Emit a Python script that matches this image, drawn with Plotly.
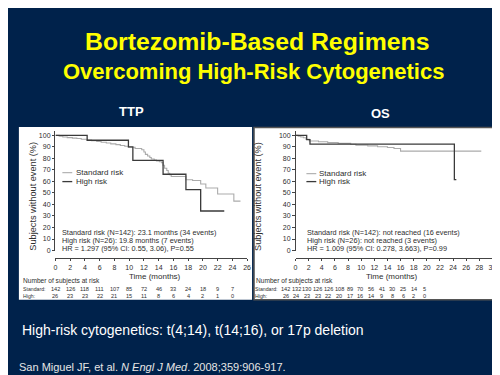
import plotly.graph_objects as go

W, H = 500, 375
def px(x): return x / W
def py(y): return 1 - y / H

# ---------------- data ----------------
ttp_std_t = [0, 0.5, 1.0, 1.6, 2.3, 2.9, 3.5, 4.3, 4.9, 5.6, 6.2, 6.9, 7.5, 8.2, 8.8, 9.4, 9.9,
             10.8, 11.7, 12.0, 12.2, 12.5, 12.8, 13.0, 13.4, 13.7, 14.1, 14.4, 14.6, 14.8, 15.1,
             15.3, 15.5, 15.7, 17.7, 18.6, 19.7, 20.4, 22.0, 24.2, 25.1]
ttp_std_v = [100, 99.3, 98.6, 98.0, 97.6, 97.2, 96.6, 96.0, 95.4, 94.7, 94.0, 93.3, 92.6, 91.9, 91.2,
             90.5, 89.6, 88.6, 87.5, 85.5, 83.5, 82.0, 80.8, 79.5, 78.6, 77.7, 77.0, 76.3, 74.0,
             71.4, 69.5, 67.1, 65.8, 64.3, 61.4, 60.8, 57.7, 54.3, 49.1, 42.9, 42.9]
ttp_high_t = [0, 4.3, 9.9, 10.5, 14.6, 17.7, 19.7, 22.9]
ttp_high_v = [100, 95.7, 90.0, 78.3, 66.2, 52.9, 34.3, 34.3]

os_std_t = [0, 0.4, 0.8, 1.2, 1.6, 2.1, 3.5, 4.9, 6.5, 8.4, 9.2, 11.0, 12.5, 14.0, 15.0, 16.0, 28.3]
os_std_v = [100, 99.3, 98.6, 97.9, 96.5, 95.1, 94.4, 93.7, 93.0, 92.3, 91.5, 90.8, 90.1, 89.4, 88.6, 86.3, 86.3]
os_high_t = [0, 1.7, 2.2, 24.2, 24.5]
os_high_v = [100, 96.2, 92.3, 61.5, 61.5]

ttp_risk_times = [0, 2, 4, 6, 8, 10, 12, 14, 16, 18, 20, 22, 24]
ttp_risk_std = [142, 126, 118, 111, 107, 85, 72, 46, 33, 24, 18, 9, 7]
ttp_risk_high = [26, 23, 23, 22, 21, 15, 11, 8, 6, 4, 2, 1, 0]
os_risk_std = [142, 132, 130, 126, 126, 108, 89, 70, 56, 41, 30, 25, 14, 5]
os_risk_high = [26, 24, 23, 23, 22, 20, 17, 16, 14, 9, 8, 6, 2, 0]

ttp_xticks = list(range(0, 27, 2))
os_xticks = list(range(0, 31, 2))
yticks = list(range(0, 101, 10))

ttp_notes = ["Standard risk (N=142): 23.1 months (34 events)",
             "High risk (N=26): 19.8 months (7 events)",
             "HR = 1.297 (95% CI: 0.55, 3.06), P=0.55"]
os_notes = ["Standard risk (N=142): not reached (16 events)",
            "High risk (N=26): not reached (3 events)",
            "HR = 1.009 (95% CI: 0.278, 3.663), P=0.99"]

# ---------------- style ----------------
NAVY = "#00224B"
STD_C = "#ababab"
HIGH_C = "#3a3a3a"
TXT = "#2e2e2e"
FONT = "Arial, Liberation Sans, sans-serif"
FS_TICK = 7.0
FS_NOTE = 7.3
FS_TAB = 5.6
FS_TABLBL = 5.2
FS_LEG = 8.0

fig = go.Figure()
fig.add_trace(go.Scatter(x=ttp_std_t, y=ttp_std_v, mode="lines", line=dict(shape="hv", color=STD_C, width=1.1),
                         xaxis="x", yaxis="y", showlegend=False, hoverinfo="skip"))
fig.add_trace(go.Scatter(x=ttp_high_t, y=ttp_high_v, mode="lines", line=dict(shape="hv", color=HIGH_C, width=1.3),
                         xaxis="x", yaxis="y", showlegend=False, hoverinfo="skip"))
fig.add_trace(go.Scatter(x=os_std_t, y=os_std_v, mode="lines", line=dict(shape="hv", color=STD_C, width=1.1),
                         xaxis="x2", yaxis="y2", showlegend=False, hoverinfo="skip"))
fig.add_trace(go.Scatter(x=os_high_t, y=os_high_v, mode="lines", line=dict(shape="hv", color=HIGH_C, width=1.3),
                         xaxis="x2", yaxis="y2", showlegend=False, hoverinfo="skip"))

axcommon = dict(showgrid=False, zeroline=False, showline=True, linecolor="#444", linewidth=1,
                ticks="outside", ticklen=2.5, tickcolor="#444", tickwidth=1,
                tickfont=dict(size=FS_TICK, color=TXT, family=FONT))

Y_TOP, Y_ZERO, X_AXIS_Y = 123.7, 244.5, 252

fig.update_layout(
    width=W, height=H, margin=dict(l=0, r=0, t=0, b=0),
    paper_bgcolor=NAVY, plot_bgcolor="rgba(0,0,0,0)",
    font=dict(family=FONT),
    xaxis=dict(domain=[px(46), px(240)], range=[0, 26], anchor="free", position=py(X_AXIS_Y),
               tickvals=ttp_xticks, **axcommon),
    yaxis=dict(domain=[py(Y_ZERO), py(Y_TOP)], range=[0, 104], anchor="x", tickvals=yticks, **axcommon),
    xaxis2=dict(domain=[px(289), px(488.3)], range=[0, 30], anchor="free", position=py(X_AXIS_Y),
                tickvals=os_xticks, **axcommon),
    yaxis2=dict(domain=[py(Y_ZERO), py(Y_TOP)], range=[0, 104], anchor="x2", tickvals=yticks, **axcommon),
)

shapes = [
    dict(type="rect", xref="paper", yref="paper", x0=px(9), x1=px(245), y0=py(294), y1=py(120),
         fillcolor="white", line=dict(width=0), layer="below"),
    dict(type="rect", xref="paper", yref="paper", x0=px(247), x1=px(496.5), y0=py(294), y1=py(120.5),
         fillcolor="white", line=dict(width=1.5, color="#555"), layer="below"),
    dict(type="line", xref="paper", yref="paper", x0=px(53), x1=px(63), y0=py(166), y1=py(166),
         line=dict(color=STD_C, width=1.1)),
    dict(type="line", xref="paper", yref="paper", x0=px(53), x1=px(63), y0=py(175), y1=py(175),
         line=dict(color=HIGH_C, width=1.3)),
    dict(type="line", xref="paper", yref="paper", x0=px(300), x1=px(310), y0=py(167), y1=py(167),
         line=dict(color=STD_C, width=1.1)),
    dict(type="line", xref="paper", yref="paper", x0=px(300), x1=px(310), y0=py(175), y1=py(175),
         line=dict(color=HIGH_C, width=1.3)),
]

ann = []
def t(text, x, y, size=FS_NOTE, color=TXT, xanchor="left", bold=False, **kw):
    if bold:
        text = "<b>" + text + "</b>"
    ann.append(dict(text=text, x=px(x), y=py(y), xref="paper", yref="paper", xanchor=xanchor,
                    yanchor="middle", showarrow=False, font=dict(size=size, color=color, family=FONT), **kw))

t("Bortezomib-Based Regimens", 249.5, 34, size=24.8, color="#FFFF00", xanchor="center", bold=True)
t("Overcoming High-Risk Cytogenetics", 246.5, 64, size=22, color="#FFFF00", xanchor="center", bold=True)
t("TTP", 123, 104, size=13, color="white", xanchor="center", bold=True)
t("OS", 375.5, 106.5, size=13, color="white", xanchor="center", bold=True)
t("High-risk cytogenetics: t(4;14), t(14;16), or 17p deletion", 10, 325, size=14, color="white")
t("San Miguel JF, et al. <i>N Engl J Med</i>. 2008;359:906-917.", 7, 362, size=11, color="#e6e6e6")

# left panel
t("Standard risk", 65, 166, size=FS_LEG)
t("High risk", 65, 175, size=FS_LEG)
for i, s in enumerate(ttp_notes):
    t(s, 51, 226 + i * 8.3)
t("Subjects without event (%)", 23.5, 190, size=9.2, xanchor="center", textangle=-90)
t("Time (months)", 147, 270.5, size=8, xanchor="center")
t("Number of subjects at risk", 11, 275, size=6.6)
t("Standard:", 11, 283.3, size=FS_TABLBL)
t("High:", 11, 290, size=FS_TABLBL)
for tm, a, b in zip(ttp_risk_times, ttp_risk_std, ttp_risk_high):
    for val, yy in ((a, 283.3), (b, 290)):
        ann.append(dict(text=str(val), x=tm, y=py(yy), xref="x", yref="paper", xanchor="center",
                        yanchor="middle", showarrow=False, font=dict(size=FS_TAB, color=TXT, family=FONT)))

# right panel
t("Standard risk", 310.5, 167, size=FS_LEG)
t("High risk", 310.5, 175, size=FS_LEG)
for i, s in enumerate(os_notes):
    t(s, 299, 226 + i * 8.3)
t("Subjects without event (%)", 251.5, 190, size=9.2, xanchor="center", textangle=-90)
t("Time (months)", 387, 270.5, size=8, xanchor="center")
t("Number of subjects at risk", 246.5, 275, size=6.6)
t("Standard:", 246, 283.3, size=FS_TABLBL)
t("High:", 246, 290, size=FS_TABLBL)
for i, (a, b) in enumerate(zip(os_risk_std, os_risk_high)):
    t(str(a), 279 + i * 10.8, 283.3, size=FS_TAB, xanchor="center")
    t(str(b), 279 + i * 10.8, 290, size=FS_TAB, xanchor="center")

fig.update_layout(shapes=shapes, annotations=ann)
fig.write_html("out.html")
